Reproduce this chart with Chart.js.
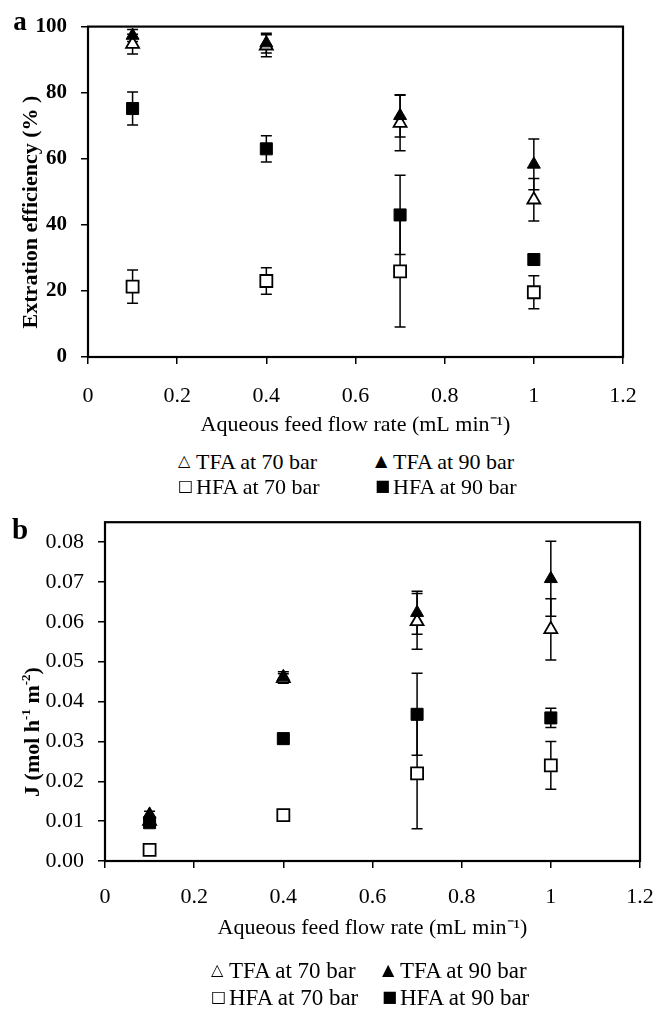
<!DOCTYPE html>
<html><head><meta charset="utf-8">
<script src="https://cdn.jsdelivr.net/npm/chart.js@4.4.1/dist/chart.umd.min.js"></script>
<style>
html,body{margin:0;padding:0;background:#fff;}
body{width:656px;height:1011px;position:relative;overflow:hidden;font-family:"Liberation Serif","Times New Roman",serif;color:#000;}
canvas{position:absolute;left:0;}
.lbl{position:absolute;white-space:nowrap;font-weight:bold;line-height:1;transform:translate(-50%,-50%);}
.ytitle{position:absolute;white-space:nowrap;font-weight:bold;font-size:22px;line-height:1;transform:translate(-50%,-50%) rotate(-90deg);}
.ytitle sup{font-size:13px;vertical-align:top;position:relative;top:-2px;}
.leg{position:absolute;white-space:nowrap;line-height:1;transform:translateY(-50%);}
.sym{position:absolute;font-family:"DejaVu Sans";font-size:16px;left:-18px;top:50%;transform:translateY(-55%);}
</style></head>
<body>
<canvas id="ca" width="656" height="445" style="top:0"></canvas>
<canvas id="cb" width="656" height="475" style="top:495px"></canvas>

<div class="lbl" style="left:20px;top:21px;font-size:27px;">a</div>
<div class="lbl" style="left:20px;top:529px;font-size:29px;">b</div>

<div class="ytitle" style="left:30px;top:212px;">Extration efficiency (% )</div>
<div class="ytitle" style="left:32px;top:732px;">J (mol h<sup>-1</sup> m<sup>-2</sup>)</div>

<div class="leg" style="left:196px;top:462px;font-size:22px;"><span class="sym">△</span>TFA at 70 bar</div>
<div class="leg" style="left:393px;top:462px;font-size:22px;"><span class="sym">▲</span>TFA at 90 bar</div>
<div class="leg" style="left:196px;top:487px;font-size:22px;"><span class="sym">□</span>HFA at 70 bar</div>
<div class="leg" style="left:393px;top:487px;font-size:22px;"><span class="sym">■</span>HFA at 90 bar</div>

<div class="leg" style="left:229px;top:970px;font-size:23px;"><span class="sym">△</span>TFA at 70 bar</div>
<div class="leg" style="left:400px;top:970px;font-size:23px;"><span class="sym">▲</span>TFA at 90 bar</div>
<div class="leg" style="left:229px;top:997px;font-size:23px;"><span class="sym">□</span>HFA at 70 bar</div>
<div class="leg" style="left:400px;top:997px;font-size:23px;"><span class="sym">■</span>HFA at 90 bar</div>

<script>
// ---- shared x categories (aqueous feed flow rate, mL/min)
const flowRates = [0.1, 0.4, 0.7, 1.0];
const xTicks = [0, 0.2, 0.4, 0.6, 0.8, 1.0, 1.2];
const xTickLabels = ['0', '0.2', '0.4', '0.6', '0.8', '1', '1.2'];
const seriesNames = ['TFA at 90 bar', 'HFA at 90 bar', 'TFA at 70 bar', 'HFA at 70 bar'];

// ---- panel a : extraction efficiency (%)
const effTFA90 = [97.3, 95.0, 73.0, 58.3];
const effTFA90Err = [1.8, 3.0, 6.4, 7.7];
const effHFA90 = [75.2, 63.0, 43.0, 29.5];
const effHFA90Err = [5.0, 4.0, 12.0, 1.5];
const effTFA70 = [94.7, 94.2, 70.8, 47.6];
const effTFA70Err = [3.0, 3.3, 8.4, 6.4];
const effHFA70 = [21.3, 23.0, 25.9, 19.6];
const effHFA70Err = [5.0, 4.0, 16.8, 5.0];
const yTicksA = [0, 20, 40, 60, 80, 100];
const yTickLabelsA = ['0', '20', '40', '60', '80', '100'];

// ---- panel b : flux J (mol h-1 m-2)
const fluxTFA90 = [0.0117, 0.0462, 0.0623, 0.0708];
const fluxTFA90Err = [0.0008, 0.0013, 0.0054, 0.0094];
const fluxHFA90 = [0.0096, 0.0307, 0.0368, 0.0359];
const fluxHFA90Err = [0.0005, 0.0010, 0.0103, 0.0024];
const fluxTFA70 = [0.0100, 0.0458, 0.0601, 0.0581];
const fluxTFA70Err = [0.0008, 0.0012, 0.0070, 0.0077];
const fluxHFA70 = [0.0028, 0.0115, 0.0220, 0.0240];
const fluxHFA70Err = [0.0004, 0.0008, 0.0139, 0.0060];
const yTicksB = [0, 0.01, 0.02, 0.03, 0.04, 0.05, 0.06, 0.07, 0.08];
const yTickLabelsB = ['0.00', '0.01', '0.02', '0.03', '0.04', '0.05', '0.06', '0.07', '0.08'];

const FONT = "'Liberation Serif', 'Times New Roman', serif";

const framePlugin = {
  id: 'frame',
  afterDraw(chart) {
    const { ctx, chartArea: a } = chart;
    ctx.save();
    ctx.strokeStyle = '#000';
    ctx.lineWidth = 2.2;
    ctx.strokeRect(a.left, a.top, a.right - a.left, a.bottom - a.top);
    ctx.restore();
  }
};

const errorBarPlugin = {
  id: 'errorBars',
  beforeDatasetsDraw(chart, args, opts) {
    const ctx = chart.ctx, xs = chart.scales.x, ys = chart.scales.y;
    const errs = opts.errors || [];
    ctx.save();
    ctx.strokeStyle = '#000';
    ctx.lineWidth = 1.5;
    chart.data.datasets.forEach((ds, di) => {
      const e = errs[di];
      if (!e) return;
      ds.data.forEach((p, i) => {
        const px = xs.getPixelForValue(p.x);
        const t = ys.getPixelForValue(p.y + e[i]);
        const b = ys.getPixelForValue(p.y - e[i]);
        ctx.beginPath();
        ctx.moveTo(px, t); ctx.lineTo(px, b);
        ctx.moveTo(px - 5.5, t); ctx.lineTo(px + 5.5, t);
        ctx.moveTo(px - 5.5, b); ctx.lineTo(px + 5.5, b);
        ctx.stroke();
      });
    });
    ctx.restore();
  }
};

function pts(vals) { return flowRates.map((x, i) => ({ x: x, y: vals[i] })); }

function makeDatasets(tfa90, hfa90, tfa70, hfa70) {
  return [
    { label: seriesNames[0], data: pts(tfa90), pointStyle: 'triangle', pointRadius: 7.5, backgroundColor: '#000', borderColor: '#000', borderWidth: 1 },
    { label: seriesNames[1], data: pts(hfa90), pointStyle: 'rect', pointRadius: 8.5, backgroundColor: '#000', borderColor: '#000', borderWidth: 1 },
    { label: seriesNames[2], data: pts(tfa70), pointStyle: 'triangle', pointRadius: 7.5, backgroundColor: '#fff', borderColor: '#000', borderWidth: 1.8 },
    { label: seriesNames[3], data: pts(hfa70), pointStyle: 'rect', pointRadius: 8.5, backgroundColor: '#fff', borderColor: '#000', borderWidth: 1.8 }
  ];
}

function makeChart(id, cfg) {
  return new Chart(document.getElementById(id), {
    type: 'scatter',
    data: { datasets: cfg.datasets },
    options: {
      responsive: false,
      animation: false,
      events: [],
      layout: { padding: cfg.padding },
      plugins: {
        legend: { display: false },
        tooltip: { enabled: false },
        errorBars: { errors: cfg.errors }
      },
      scales: {
        x: {
          type: 'linear', min: 0, max: 1.2,
          afterBuildTicks: s => { s.ticks = xTicks.map(v => ({ value: v })); },
          afterFit: s => { s.height = cfg.xAxisH; s.paddingLeft = 0; s.paddingRight = 0; },
          border: { display: false },
          grid: { drawOnChartArea: false, drawTicks: true, tickLength: 7, color: '#000', lineWidth: 1.5 },
          ticks: { color: '#000', font: { family: FONT, size: 22 }, padding: cfg.xTickPad, maxRotation: 0, autoSkip: false,
                   callback: (v, i) => xTickLabels[i] },
          title: { display: true, text: 'Aqueous feed flow rate (mL min⁻¹)', color: '#000',
                   font: { family: FONT, size: 22 }, padding: { top: 0, bottom: cfg.xTitlePad } }
        },
        y: {
          type: 'linear', min: 0, max: cfg.yMax,
          afterBuildTicks: s => { s.ticks = cfg.yTicks.map(v => ({ value: v })); },
          afterFit: s => { s.width = cfg.yAxisW; },
          border: { display: false },
          grid: { drawOnChartArea: false, drawTicks: true, tickLength: 7, color: '#000', lineWidth: 1.5 },
          ticks: { color: '#000', font: { family: FONT, size: cfg.yTickSize, weight: cfg.yTickWeight }, padding: 14,
                   autoSkip: false, callback: (v, i) => cfg.yTickLabels[i] }
        }
      }
    },
    plugins: [errorBarPlugin, framePlugin]
  });
}

makeChart('ca', {
  datasets: makeDatasets(effTFA90, effHFA90, effTFA70, effHFA70),
  errors: [effTFA90Err, effHFA90Err, effTFA70Err, effHFA70Err],
  padding: { top: 24, right: 33, left: 0, bottom: 7 },
  xAxisH: 81, xTickPad: 19, xTitlePad: 0,
  yAxisW: 88, yMax: 100, yTicks: yTicksA, yTickLabels: yTickLabelsA,
  yTickSize: 21, yTickWeight: 'bold'
});

makeChart('cb', {
  datasets: makeDatasets(fluxTFA90, fluxHFA90, fluxTFA70, fluxHFA70),
  errors: [fluxTFA90Err, fluxHFA90Err, fluxTFA70Err, fluxHFA70Err],
  padding: { top: 27, right: 16, left: 0, bottom: 29 },
  xAxisH: 80, xTickPad: 16, xTitlePad: 0,
  yAxisW: 105, yMax: 0.085, yTicks: yTicksB, yTickLabels: yTickLabelsB,
  yTickSize: 22, yTickWeight: 'normal'
});
</script>
</body></html>
